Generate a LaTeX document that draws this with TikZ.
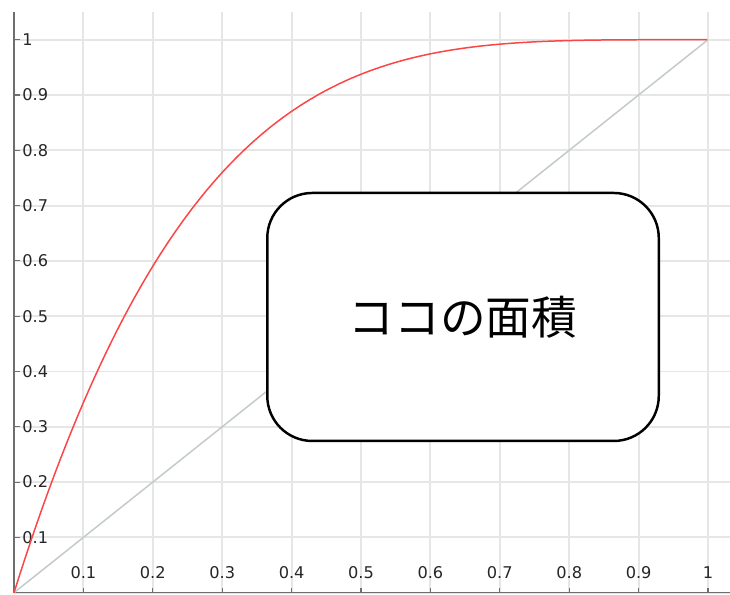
\documentclass[tikz,border=0pt]{standalone}
\usepackage{fontspec}
\setmainfont{DejaVu Sans}
\newfontfamily\jpfont{Noto Sans CJK JP}
\usepackage{tikz}
\definecolor{curvered}{RGB}{250,70,70}
\definecolor{diaggray}{RGB}{195,203,200}
\definecolor{gridgray}{RGB}{230,230,230}
\definecolor{axisgray}{RGB}{110,110,110}
\tikzset{
  ticklab/.style={inner sep=0pt,font=\fontsize{9.2}{10}\selectfont,text=black!85},
  areabox/.style={draw,fill=white,line width=1.4pt,rounded corners=0.9cm,
    minimum width=7.83cm,minimum height=4.96cm,
    font=\fontsize{26}{26}\selectfont}
}

\begin{document}
\begin{tikzpicture}[x=13.88cm,y=11.06cm]
\useasboundingbox (-0.0202,-0.0024) rectangle (1.0317,1.0718);
\draw[gridgray,line width=1.1pt,step=0.1] (0,0) grid (1.0317,1.05);
\draw[axisgray,line width=0.6pt] (0,0)--(1.0317,0);
\draw[axisgray,line width=0.6pt] (0,0)--(0,1.05);
\draw[axisgray,line width=0.6pt] (0.1,0)--(0.1,0.009) (0.2,0)--(0.2,0.009) (0.3,0)--(0.3,0.009) (0.4,0)--(0.4,0.009) (0.5,0)--(0.5,0.009);
\draw[axisgray,line width=0.6pt] (0.6,0)--(0.6,0.009) (0.7,0)--(0.7,0.009) (0.8,0)--(0.8,0.009) (0.9,0)--(0.9,0.009) (1,0)--(1,0.009);
\draw[axisgray,line width=0.6pt] (0,0.1)--(0.0086,0.1) (0,0.2)--(0.0086,0.2) (0,0.3)--(0.0086,0.3) (0,0.4)--(0.0086,0.4) (0,0.5)--(0.0086,0.5);
\draw[axisgray,line width=0.6pt] (0,0.6)--(0.0086,0.6) (0,0.7)--(0.0086,0.7) (0,0.8)--(0.0086,0.8) (0,0.9)--(0.0086,0.9) (0,1)--(0.0086,1);
\draw node[ticklab] (x1) at (0.1,0.0356) {0.1};
\draw node[ticklab] (x2) at (0.2,0.0356) {0.2};
\draw node[ticklab] (x3) at (0.3,0.0356) {0.3};
\draw node[ticklab] (x4) at (0.4,0.0356) {0.4};
\draw node[ticklab] (x5) at (0.5,0.0356) {0.5};
\draw node[ticklab] (x6) at (0.6,0.0356) {0.6};
\draw node[ticklab] (x7) at (0.7,0.0356) {0.7};
\draw node[ticklab] (x8) at (0.8,0.0356) {0.8};
\draw node[ticklab] (x9) at (0.9,0.0356) {0.9};
\draw node[ticklab] (x10) at (1,0.0356) {1};
\draw node[ticklab,anchor=west] (y1) at (0.0115,0.1) {0.1};
\draw node[ticklab,anchor=west] (y2) at (0.0115,0.2) {0.2};
\draw node[ticklab,anchor=west] (y3) at (0.0115,0.3) {0.3};
\draw node[ticklab,anchor=west] (y4) at (0.0115,0.4) {0.4};
\draw node[ticklab,anchor=west] (y5) at (0.0115,0.5) {0.5};
\draw node[ticklab,anchor=west] (y6) at (0.0115,0.6) {0.6};
\draw node[ticklab,anchor=west] (y7) at (0.0115,0.7) {0.7};
\draw node[ticklab,anchor=west] (y8) at (0.0115,0.8) {0.8};
\draw node[ticklab,anchor=west] (y9) at (0.0115,0.9) {0.9};
\draw node[ticklab,anchor=west] (y10) at (0.0115,1) {1};
\draw[diaggray,line width=0.85pt] (0,0)--(1,1);
\draw[curvered,line width=0.85pt,domain=0:1,samples=120] plot (\x,{1-(1-\x)^4});
\draw node[areabox] (area) at (0.647,0.4986) {\jpfont ココの面積};
\end{tikzpicture}
\end{document}
